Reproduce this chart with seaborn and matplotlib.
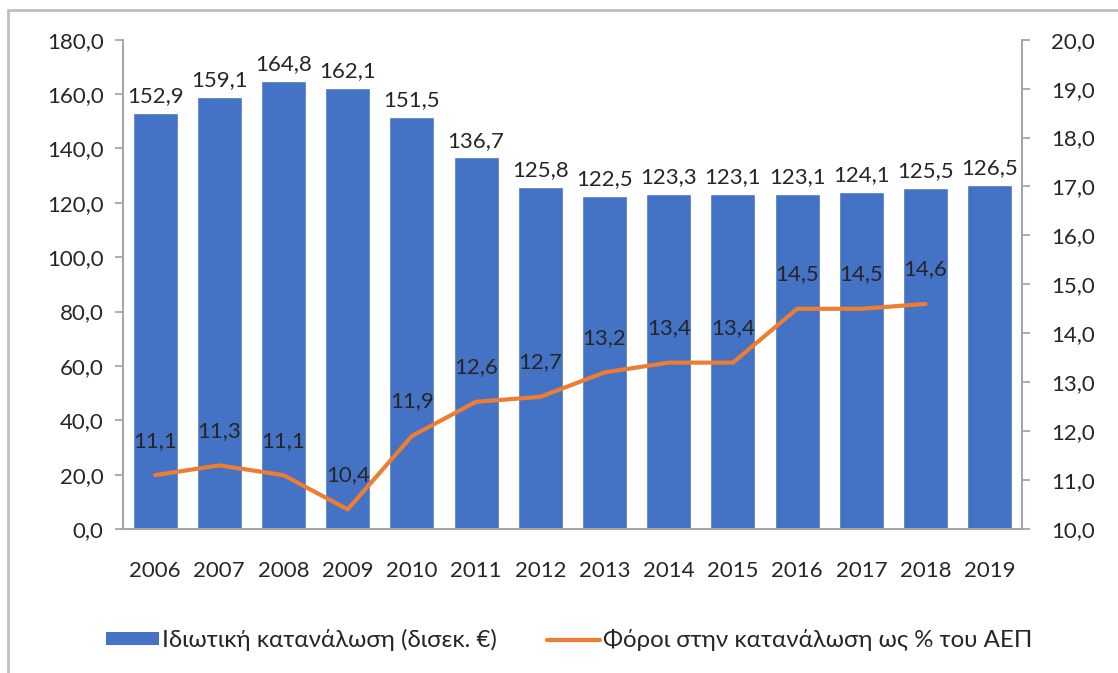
import numpy as np
import pandas as pd
import seaborn as sns
import matplotlib.pyplot as plt
from matplotlib.patches import Rectangle, Patch
from matplotlib.lines import Line2D

years = ["2006", "2007", "2008", "2009", "2010", "2011", "2012",
         "2013", "2014", "2015", "2016", "2017", "2018", "2019"]
consumption = [152.9, 159.1, 164.8, 162.1, 151.5, 136.7, 125.8,
               122.5, 123.3, 123.1, 123.1, 124.1, 125.5, 126.5]
tax_years = years[:13]
tax_share = [11.1, 11.3, 11.1, 10.4, 11.9, 12.6, 12.7,
             13.2, 13.4, 13.4, 14.5, 14.5, 14.6]

bar_label = "Ιδιωτική κατανάλωση (δισεκ. €)"
line_label = "Φόροι στην κατανάλωση ως % του ΑΕΠ"

BLUE = "#4472C4"
ORANGE = "#ED7D31"
GRAY = "#A6A6A6"


def fmt(v):
    return f"{v:.1f}".replace(".", ",")


sns.set_style("white")
plt.rcParams['font.family'] = ['Lato', 'DejaVu Sans']
FS = 16
LFS = 17.3

fig = plt.figure(figsize=(11.18, 6.73), dpi=100)
ax = fig.add_axes([0.110, 0.214, 0.804, 0.727])

bars_df = pd.DataFrame({"year": years, "value": consumption})
sns.barplot(data=bars_df, x="year", y="value", color=BLUE, width=0.7,
            saturation=1, ax=ax)

ax.set_ylim(0, 180)
ax.set_yticks(np.arange(0, 181, 20))
ax.set_yticklabels([fmt(v) for v in np.arange(0, 181, 20)], fontsize=FS)
ax.set_xlim(-0.5, len(years) - 0.5)
ax.set_xlabel("")
ax.set_ylabel("")
ax.set_xticks(range(len(years)))
ax.set_xticklabels(years, fontsize=FS)
ax.set_xticks(np.arange(-0.5, len(years), 1), minor=True)
ax.tick_params(axis="x", which="major", length=0, pad=23)
ax.tick_params(axis="x", which="minor", length=6, color=GRAY, width=1.3)
ax.tick_params(axis="y", length=6, color=GRAY, width=1.3, pad=8, left=True)

for i, v in enumerate(consumption):
    ax.text(i, v + 2.5, fmt(v), ha="center", va="bottom", fontsize=FS)

ax.spines["top"].set_visible(False)
for side in ["left", "bottom", "right"]:
    ax.spines[side].set_color(GRAY)
    ax.spines[side].set_linewidth(1.3)

ax2 = ax.twinx()
line_df = pd.DataFrame({"year": tax_years, "value": tax_share})
sns.lineplot(data=line_df, x="year", y="value", color=ORANGE, linewidth=3,
             ax=ax2)
ax2.set_ylim(10, 20)
ax2.set_xlim(-0.5, len(years) - 0.5)
ax2.set_yticks(np.arange(10, 20.1, 1))
ax2.set_yticklabels([fmt(v) for v in np.arange(10, 20.1, 1)], fontsize=FS)
ax2.set_ylabel("")
ax2.tick_params(axis="y", length=6, color=GRAY, width=1.3, pad=15, right=True)
ax2.spines["top"].set_visible(False)
for side in ["left", "bottom", "right"]:
    ax2.spines[side].set_color(GRAY)
    ax2.spines[side].set_linewidth(1.3)

for i, v in enumerate(tax_share):
    ax2.text(i, v + 0.5, fmt(v), ha="center", va="bottom", fontsize=FS)

handles = [Patch(facecolor=BLUE, edgecolor="none", label=bar_label),
           Line2D([0], [0], color=ORANGE, linewidth=3, label=line_label)]
fig.legend(handles=handles, loc="center", bbox_to_anchor=(0.509, 0.049),
           ncol=2, frameon=False, fontsize=LFS, handlelength=2.2,
           handleheight=0.45, handletextpad=0.12, columnspacing=2.1)

fig.patches.append(Rectangle((8 / 1118, -0.1), 1.2, 1.1 - 10 / 673,
                             transform=fig.transFigure, fill=False,
                             edgecolor="#BFBFBF", linewidth=2))

fig.savefig("out.png", dpi=100)
